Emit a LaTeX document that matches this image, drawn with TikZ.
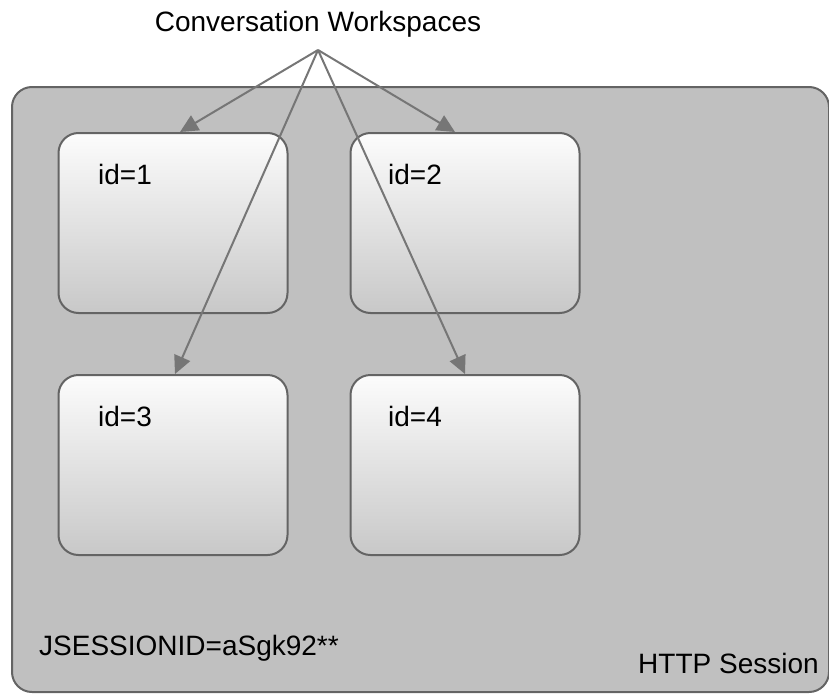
\documentclass[tikz,border=0pt]{standalone}
\usepackage{fontspec}
\setmainfont{Liberation Sans}
\usetikzlibrary{arrows.meta}
\definecolor{boxline}{RGB}{100,100,100}
\definecolor{arrowgray}{RGB}{118,118,118}
\definecolor{sessionfill}{RGB}{192,192,192}
\definecolor{boxtop}{RGB}{252,252,252}
\definecolor{boxbot}{RGB}{200,200,200}
\begin{document}
\begin{tikzpicture}[x=1pt,y=-1pt,
  lbl/.style={font=\fontsize{28}{34}\selectfont, inner sep=0pt, anchor=base west},
  session/.style={draw=boxline, line width=2pt, rounded corners=20pt, fill=sessionfill, minimum width=817pt, minimum height=605pt, inner sep=0pt},
  ws/.style={draw=boxline, line width=2pt, rounded corners=20pt, top color=boxtop, bottom color=boxbot, minimum width=229pt, minimum height=180pt, inner sep=0pt},
  arr/.style={draw=arrowgray, line width=2pt, -{Triangle[length=18pt,width=17pt]}}]
\useasboundingbox (0,0) rectangle (829,693);
\node[session] (sess) at (420.5,389.5) {};
\node[ws] (w1) at (173,223) {};
\node[ws] (w2) at (465,223) {};
\node[ws] (w3) at (173,465) {};
\node[ws] (w4) at (465,465) {};
\node[lbl] (l1) at (98,184) {id=1};
\node[lbl] (l2) at (388,184) {id=2};
\node[lbl] (l3) at (98,426) {id=3};
\node[lbl] (l4) at (388,426) {id=4};
\node[lbl] (jsid) at (39,655) {JSESSIONID=aSgk92**};
\node[lbl] (http) at (638,673) {HTTP Session};
\node[lbl, anchor=base] (title) at (318,32) {Conversation Workspaces};
\coordinate (apex) at (318,50);
\draw[arr] (apex) -- ([xshift=7pt]w1.north);
\draw[arr] (apex) -- ([xshift=-10pt]w2.north);
\draw[arr] (apex) -- ([xshift=2pt]w3.north);
\draw[arr] (apex) -- (w4.north);
\end{tikzpicture}
\end{document}
